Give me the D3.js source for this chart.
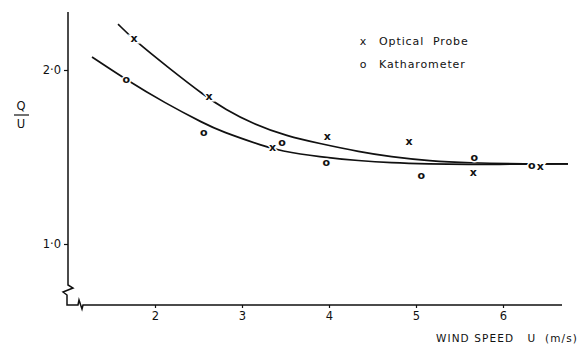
<!DOCTYPE html>
<html>
<head>
<meta charset="utf-8">
<script src="https://cdn.jsdelivr.net/npm/d3@7"></script>
<style>
  body { margin: 0; background: #fff; }
  text { font-family: "DejaVu Sans", sans-serif; fill: #111; white-space: pre; }
</style>
</head>
<body>
<div id="chart"></div>
<script>
// Measured points (wind speed U in m/s, Q/U)
const opticalU = [1.76, 2.62, 3.35, 3.98, 4.92, 5.66, 6.43];
const opticalQ = [2.178, 1.845, 1.552, 1.615, 1.586, 1.408, 1.443];
const kathU = [1.67, 2.56, 3.46, 3.97, 5.06, 5.67, 6.33];
const kathQ = [1.943, 1.638, 1.580, 1.466, 1.391, 1.494, 1.448];

// Fitted curves
const upperCurveU = [1.575, 1.76, 2.15, 2.575, 2.805, 3.126, 3.517, 3.897, 4.356, 4.701, 5.161, 5.598, 6.276, 6.747];
const upperCurveQ = [2.264, 2.172, 2.015, 1.850, 1.775, 1.690, 1.620, 1.577, 1.529, 1.502, 1.477, 1.466, 1.460, 1.460];
const lowerCurveU = [1.276, 1.667, 2.115, 2.575, 2.747, 3.264, 3.425, 3.897, 4.356, 4.701, 5.161, 5.540, 6.276, 6.747];
const lowerCurveQ = [2.075, 1.945, 1.810, 1.690, 1.650, 1.560, 1.537, 1.500, 1.478, 1.467, 1.460, 1.457, 1.459, 1.460];

const xTicks = [2, 3, 4, 5, 6];
const yTicks = [1, 2];
const yTickLabels = ["1·0", "2·0"];
const legendLabels = ["Optical\u00a0\u00a0Probe", "Katharometer"];
const legendSymbols = ["x", "o"];

const width = 585, height = 348;

const svg = d3.select('#chart')
    .append('svg')
    .attr('width', width)
    .attr('height', height)
    .attr('viewBox', `0 0 ${width} ${height}`);

const x = d3.scaleLinear().domain([2, 6]).range([155, 503]);
const y = d3.scaleLinear().domain([1, 2]).range([244, 70]);

const x0 = x(1);          // y axis position
const axisY = 305;        // x axis position
const yTop = 12;
const xRight = 562;

// Axis lines with break symbols
const axisPath = d3.path();
axisPath.moveTo(x0, yTop);
axisPath.lineTo(x0, axisY - 20);
axisPath.lineTo(x0 + 5, axisY - 17);
axisPath.lineTo(x0 - 5, axisY - 13);
axisPath.lineTo(x0 - 1, axisY - 10);
axisPath.lineTo(x0 - 1, axisY);
axisPath.lineTo(x0 + 10, axisY);
axisPath.lineTo(x0 + 11, axisY - 5);
axisPath.lineTo(x0 + 14, axisY + 4);
axisPath.lineTo(x0 + 15, axisY);
axisPath.lineTo(xRight, axisY);

svg.append('path')
    .attr('d', axisPath.toString())
    .attr('fill', 'none')
    .attr('stroke', '#111')
    .attr('stroke-width', 1.5);

// X axis ticks
const xAxis = svg.append('g')
    .attr('transform', `translate(0,${axisY})`)
    .call(d3.axisBottom(x).tickValues(xTicks).tickSize(3).tickPadding(4).tickFormat(d3.format('d')));
xAxis.select('.domain').remove();
xAxis.selectAll('line').attr('stroke', '#111').attr('stroke-width', 1.2);
xAxis.selectAll('text').attr('font-size', 11.5).attr('fill', '#111')
    .attr('font-family', '"DejaVu Sans", sans-serif');

// Y axis ticks
const yAxis = svg.append('g')
    .attr('transform', `translate(${x0},0)`)
    .call(d3.axisLeft(y).tickValues(yTicks).tickSize(4).tickPadding(3)
        .tickFormat((d, i) => yTickLabels[i]));
yAxis.select('.domain').remove();
yAxis.selectAll('line').attr('stroke', '#111').attr('stroke-width', 1.2);
yAxis.selectAll('text').attr('font-size', 11.5).attr('fill', '#111')
    .attr('font-family', '"DejaVu Sans", sans-serif');

// Axis titles
svg.append('text')
    .attr('x', 578)
    .attr('y', 342)
    .attr('text-anchor', 'end')
    .attr('font-size', 10.5)
    .attr('letter-spacing', 1.1)
    .text('WIND SPEED\u00a0\u00a0\u00a0U\u00a0\u00a0(m/s)');

svg.append('text')
    .attr('x', 21).attr('y', 110)
    .attr('text-anchor', 'middle')
    .attr('font-size', 11.5)
    .text('Q');
svg.append('line')
    .attr('x1', 14).attr('x2', 29)
    .attr('y1', 115).attr('y2', 115)
    .attr('stroke', '#111').attr('stroke-width', 1.2);
svg.append('text')
    .attr('x', 21).attr('y', 128)
    .attr('text-anchor', 'middle')
    .attr('font-size', 11.5)
    .text('U');

// Fitted curves
const line = d3.line()
    .x(d => x(d[0]))
    .y(d => y(d[1]))
    .curve(d3.curveBasis);

[[upperCurveU, upperCurveQ], [lowerCurveU, lowerCurveQ]].forEach(([us, qs]) => {
    svg.append('path')
        .datum(us.map((u, i) => [u, qs[i]]))
        .attr('d', line)
        .attr('fill', 'none')
        .attr('stroke', '#111')
        .attr('stroke-width', 1.7);
});

// Point markers as glyphs with a white halo to break the curves
function drawMarkers(us, qs, symbol) {
    svg.append('g')
        .selectAll('text')
        .data(us.map((u, i) => [u, qs[i]]))
        .join('text')
        .attr('x', d => x(d[0]))
        .attr('y', d => y(d[1]) + 3)
        .attr('text-anchor', 'middle')
        .attr('font-size', 11)
        .attr('font-weight', 'bold')
        .attr('stroke', '#fff')
        .attr('stroke-width', 3)
        .attr('paint-order', 'stroke')
        .text(symbol);
}
drawMarkers(opticalU, opticalQ, 'x');
drawMarkers(kathU, kathQ, 'o');

// Legend
const legend = svg.append('g');
legendLabels.forEach((label, i) => {
    legend.append('text')
        .attr('x', 363).attr('y', 45 + i * 23)
        .attr('text-anchor', 'middle')
        .attr('font-size', 11)
        .text(legendSymbols[i]);
    legend.append('text')
        .attr('x', 379).attr('y', 45 + i * 23)
        .attr('font-size', 11)
        .attr('letter-spacing', 0.9)
        .text(label);
});
</script>
</body>
</html>
